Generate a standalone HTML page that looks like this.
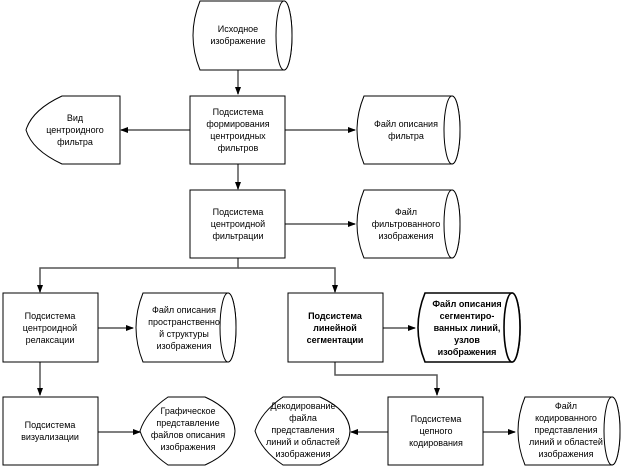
<!DOCTYPE html>
<html><head><meta charset="utf-8"><style>
html,body{margin:0;padding:0;background:#fff}
svg{display:block}
text{font-family:"Liberation Sans",sans-serif;font-size:9px;fill:#000;text-anchor:middle}
.b text{font-weight:bold}
</style></head><body>
<svg width="621" height="468" viewBox="0 0 621 468" xmlns="http://www.w3.org/2000/svg">
<defs><marker id="a" markerWidth="8" markerHeight="8" refX="7" refY="4" orient="auto" markerUnits="userSpaceOnUse"><path d="M0,1 L8,4 L0,7 z" fill="#000"/></marker></defs>
<g fill="none" stroke="#555" stroke-width="1.5">
<line x1="238" y1="70" x2="238" y2="94" marker-end="url(#a)"/>
<line x1="190" y1="130" x2="121" y2="130" marker-end="url(#a)"/>
<line x1="285" y1="130" x2="355" y2="130" marker-end="url(#a)"/>
<line x1="238" y1="163" x2="238" y2="189" marker-end="url(#a)"/>
<line x1="285" y1="224" x2="355" y2="224" marker-end="url(#a)"/>
<polyline points="238,258 238,268 40,268 40,292" marker-end="url(#a)"/>
<polyline points="238,268 335,268 335,292" marker-end="url(#a)"/>
<line x1="80" y1="328" x2="133" y2="328" marker-end="url(#a)"/>
<line x1="383" y1="328" x2="415" y2="328" marker-end="url(#a)"/>
<line x1="40" y1="362" x2="40" y2="395" marker-end="url(#a)"/>
<line x1="80" y1="432" x2="140" y2="432" marker-end="url(#a)"/>
<polyline points="335,362 335,375 437,375 437,395" marker-end="url(#a)"/>
<line x1="388" y1="432" x2="351" y2="432" marker-end="url(#a)"/>
<line x1="483" y1="432" x2="515" y2="432" marker-end="url(#a)"/>
</g>
<g fill="#fff" stroke="#000" stroke-width="1">
<path d="M200,1 L284,1 A8,34.5 0 0 1 284,70 L200,70 Q186,35.5 200,1 z"/><ellipse cx="284" cy="35.5" rx="8" ry="34.5"/>
<path d="M364,96 L452,96 A8,34 0 0 1 452,164 L364,164 Q350,130 364,96 z"/><ellipse cx="452" cy="130" rx="8" ry="34"/>
<path d="M364,190 L452,190 A8,34 0 0 1 452,258 L364,258 Q350,224 364,190 z"/><ellipse cx="452" cy="224" rx="8" ry="34"/>
<path d="M143,293 L228,293 A8,34.5 0 0 1 228,362 L143,362 Q129,327.5 143,293 z"/><ellipse cx="228" cy="327.5" rx="8" ry="34.5"/>
<path d="M425,293 L512,293 A8,34.5 0 0 1 512,362 L425,362 Q411,327.5 425,293 z" stroke-width="1.6"/><ellipse cx="512" cy="327.5" rx="8" ry="34.5" stroke-width="1.6"/>
<path d="M525,397 L612,397 A8,34 0 0 1 612,465 L525,465 Q511,431 525,397 z"/><ellipse cx="612" cy="431" rx="8" ry="34"/>
<rect x="190" y="96" width="95" height="68"/>
<rect x="190" y="190" width="95" height="68"/>
<rect x="3" y="293" width="95" height="69"/>
<rect x="288" y="293" width="95" height="69"/>
<rect x="3" y="397" width="95" height="68"/>
<rect x="388" y="397" width="95" height="68"/>
<path d="M62,96 L120,96 L120,164 L62,164 Q32,150 26,130 Q32,110 62,96 z"/>
<path d="M168,397 L205,397 Q234,410 235,431 Q234,452 205,465 L168,465 Q146,450 140,431 Q146,412 168,397 z"/>
<path d="M283,397 L320,397 Q349,410 350,431 Q349,452 320,465 L283,465 Q261,450 255,431 Q261,412 283,397 z"/>
</g>
<text x="238" y="32">Исходное</text><text x="238" y="44">изображение</text>
<text x="238" y="115">Подсистема</text><text x="238" y="127">формирования</text><text x="238" y="139">центроидных</text><text x="238" y="151">фильтров</text>
<text x="75" y="121">Вид</text><text x="75" y="133">центроидного</text><text x="75" y="145">фильтра</text>
<text x="406" y="127">Файл описания</text><text x="406" y="139">фильтра</text>
<text x="238" y="215">Подсистема</text><text x="238" y="227">центроидной</text><text x="238" y="239">фильтрации</text>
<text x="406" y="215">Файл</text><text x="406" y="227">фильтрованного</text><text x="406" y="239">изображения</text>
<text x="50" y="319">Подсистема</text><text x="50" y="331">центроидной</text><text x="50" y="343">релаксации</text>
<text x="184" y="313">Файл описания</text><text x="184" y="325">пространственно</text><text x="184" y="337">й структуры</text><text x="184" y="349">изображения</text>
<g class="b"><text x="335" y="319">Подсистема</text><text x="335" y="331">линейной</text><text x="335" y="343">сегментации</text>
<text x="467" y="307">Файл описания</text><text x="467" y="319">сегментиро-</text><text x="467" y="331">ванных линий,</text><text x="467" y="343">узлов</text><text x="467" y="355">изображения</text></g>
<text x="50" y="428">Подсистема</text><text x="50" y="440">визуализации</text>
<text x="188" y="414">Графическое</text><text x="188" y="426">представление</text><text x="188" y="438">файлов описания</text><text x="188" y="450">изображения</text>
<text x="303" y="409">Декодирование</text><text x="303" y="421">файла</text><text x="303" y="433">представления</text><text x="303" y="445">линий и областей</text><text x="303" y="457">изображения</text>
<text x="436" y="422">Подсистема</text><text x="436" y="434">цепного</text><text x="436" y="446">кодирования</text>
<text x="566" y="409">Файл</text><text x="566" y="421">кодированного</text><text x="566" y="433">представления</text><text x="566" y="445">линий и областей</text><text x="566" y="457">изображения</text>
</svg>
</body></html>
